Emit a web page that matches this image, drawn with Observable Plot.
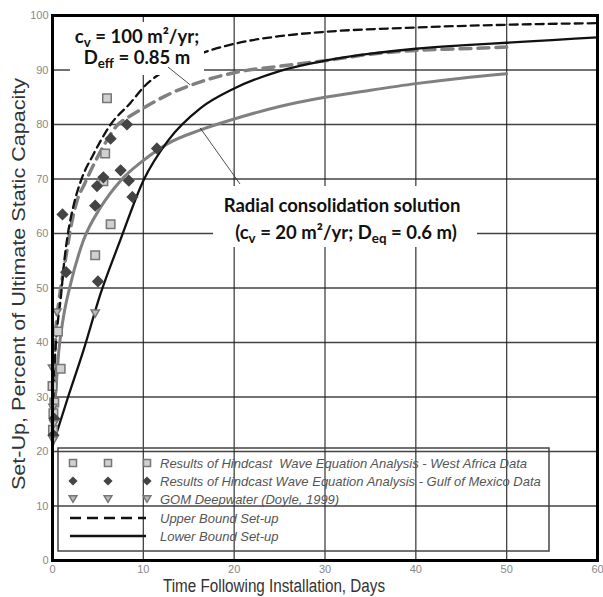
<!DOCTYPE html>
<html><head><meta charset="utf-8">
<script src="https://cdn.jsdelivr.net/npm/d3@7"></script>
<script src="https://cdn.jsdelivr.net/npm/@observablehq/plot@0.6"></script>
<style>body{margin:0;background:#fff} svg{display:block}</style>
</head><body><div id="chart"></div>
<script>
// ---- data ----
const xTicks = [0, 10, 20, 30, 40, 50, 60];
const yTicks = [0, 10, 20, 30, 40, 50, 60, 70, 80, 90, 100];

const upperX = [0, 0.1, 0.3, 0.6, 0.9, 1.3, 1.7, 2.3, 3.2, 4.5, 5.3, 6.4, 8.6, 10, 13, 16.3, 20, 25, 30, 40, 50, 60];
const upperY = [22, 30, 38, 44, 48, 55, 60, 65, 70, 74.5, 77, 80, 84, 86.8, 90.5, 93, 94.8, 96.2, 97, 97.8, 98.3, 98.6];

const lowerX = [0, 1.6, 3.4, 5.3, 7.4, 10, 12.7, 16.3, 20, 25, 30, 35, 40, 45, 50, 55, 60];
const lowerY = [21, 29.4, 38.5, 49, 58.5, 69.7, 77, 83, 86.6, 89.8, 91.7, 93, 93.9, 94.5, 95, 95.5, 96];

const cv100X = [0, 0.15, 0.35, 0.7, 1.2, 1.6, 2, 2.7, 3.5, 4.2, 5.6, 7.1, 8.5, 10, 12.5, 15.2, 20, 25, 30, 35, 40, 45, 50];
const cv100Y = [22, 32, 41.5, 47.5, 53, 57, 61, 66, 69, 71.5, 76, 79.8, 81.5, 83, 85.3, 87.2, 89.5, 90.7, 91.7, 92.9, 93.6, 93.9, 94.2];

const cv20X = [0, 0.3, 0.7, 1.2, 2, 3.4, 5.3, 7.5, 10, 12.7, 16.3, 20, 25, 30, 35, 40, 45, 50];
const cv20Y = [22, 29.4, 38.5, 44.6, 50.8, 58.7, 64.8, 69.7, 73.4, 76.5, 79, 81, 83.3, 85, 86.3, 87.5, 88.5, 89.3];

const waX = [0.05, 0.1, 0.2, 0, 0.9, 0.6, 4.7, 6.4, 5.6, 5.8, 6.0];
const waY = [24, 27, 29, 32, 35.2, 42, 56, 61.7, 69.6, 74.7, 84.8];

const gomX = [0.1, 0.2, 1.1, 1.5, 5.0, 4.7, 4.9, 5.6, 6.4, 7.5, 8.2, 8.4, 8.8, 11.5];
const gomY = [23, 26, 63.5, 52.9, 51.2, 65.1, 68.7, 70.3, 77.4, 71.6, 80, 69.7, 66.7, 75.6];

const doyleX = [0.1, 0.15, 0.05, 0, 0.5, 4.7];
const doyleY = [22, 25, 28, 35.2, 45.5, 45.3];

const legendLabels = [
  "Results of Hindcast  Wave Equation Analysis - West Africa Data",
  "Results of Hindcast Wave Equation Analysis - Gulf of Mexico Data",
  "GOM Deepwater (Doyle, 1999)",
  "Upper Bound Set-up",
  "Lower Bound Set-up"
];
const xLabel = "Time Following Installation, Days";
const yLabel = "Set-Up, Percent of Ultimate Static Capacity";

// ---- build tables ----
const zip = (xs, ys) => xs.map((x, i) => ({x, y: ys[i]}));
const upper = zip(upperX, upperY), lower = zip(lowerX, lowerY);
const cv100 = zip(cv100X, cv100Y), cv20 = zip(cv20X, cv20Y);
const wa = zip(waX, waY), gom = zip(gomX, gomY), doyle = zip(doyleX, doyleY);

const invTriangle = {
  draw(ctx, size) {
    const s = Math.sqrt(size) * 1.1;
    const h = s * Math.sqrt(3) / 2;
    ctx.moveTo(-s / 2, -h / 2);
    ctx.lineTo(s / 2, -h / 2);
    ctx.lineTo(0, h / 2);
    ctx.closePath();
  }
};
const rotSquare = {
  draw(ctx, size) {
    const d = Math.sqrt(size) * 0.62;
    ctx.moveTo(0, -d); ctx.lineTo(d, 0); ctx.lineTo(0, d); ctx.lineTo(-d, 0); ctx.closePath();
  }
};

const GREY = "#808080", BLACK = "#111";
const FONT = "'Liberation Sans', Arial, sans-serif";

const plot = Plot.plot({
  width: 603, height: 597,
  marginLeft: 52, marginRight: 6, marginTop: 15, marginBottom: 37,
  style: {fontFamily: FONT, background: "#fff"},
  x: {domain: [0, 60], label: null},
  y: {domain: [0, 100], label: null},
  marks: [
    Plot.gridX(xTicks, {stroke: "#222", strokeOpacity: 0.85, strokeWidth: 1.3}),
    Plot.gridY(yTicks, {stroke: "#222", strokeOpacity: 0.85, strokeWidth: 1.3}),
    Plot.axisX(xTicks, {tickSize: 0, tickPadding: 5, fontSize: 11, fill: "#888"}),
    Plot.axisY(yTicks, {tickSize: 0, tickPadding: 4, fontSize: 11, fill: "#888"}),
    Plot.line(cv20, {x: "x", y: "y", stroke: GREY, strokeWidth: 3, curve: "monotone-x"}),
    Plot.line(cv100, {x: "x", y: "y", stroke: GREY, strokeWidth: 3.5, strokeDasharray: "11,7", curve: "monotone-x"}),
    Plot.line(lower, {x: "x", y: "y", stroke: BLACK, strokeWidth: 2.3, curve: "monotone-x"}),
    Plot.line(upper, {x: "x", y: "y", stroke: BLACK, strokeWidth: 2.3, strokeDasharray: "8,5", curve: "monotone-x"}),
    Plot.dot(wa, {x: "x", y: "y", symbol: "square", r: 4.8, fill: "#d0d0d0", stroke: "#777", strokeWidth: 1.5}),
    Plot.dot(gom, {x: "x", y: "y", symbol: rotSquare, r: 4.6, fill: "#444", stroke: "#444"}),
    Plot.dot(doyle, {x: "x", y: "y", symbol: invTriangle, r: 4.2, fill: "#bbb", stroke: "#777", strokeWidth: 1.5}),
    Plot.frame({stroke: "#000", strokeWidth: 3}),
    Plot.text([yLabel], {frameAnchor: "left", textAnchor: "middle", dx: -33, dy: -4, rotate: -90, fontSize: 18, fill: "#333", className: "ylab"}),
    Plot.text([xLabel], {frameAnchor: "bottom", textAnchor: "middle", dx: -51, dy: 31, fontSize: 18, fill: "#333", className: "xlab"})
  ]
});
document.getElementById("chart").appendChild(plot);

// ---- annotations & legend (layout) ----
const svg = d3.select(plot);
svg.selectAll(".ylab text").attr("textLength", 412).attr("lengthAdjust", "spacingAndGlyphs");
svg.selectAll(".xlab text").attr("textLength", 222).attr("lengthAdjust", "spacingAndGlyphs");
const sx = plot.scale("x"), sy = plot.scale("y");
const X = v => sx.apply(v), Y = v => sy.apply(v);

const ann = svg.append("g").attr("font-family", "Lato, 'Open Sans', sans-serif").attr("font-weight", "bold").attr("fill", "#111");
ann.append("rect").attr("x", 70).attr("y", 22).attr("width", 134).attr("height", 53).attr("fill", "#fff");
ann.append("line").attr("x1", 168).attr("y1", 67).attr("x2", X(15.2)).attr("y2", Y(87.2)).attr("stroke", "#222").attr("stroke-width", 0.8);
ann.append("rect").attr("x", 213).attr("y", 186).attr("width", 264).attr("height", 61).attr("fill", "#fff");
ann.append("line").attr("x1", X(16.3)).attr("y1", Y(79.3)).attr("x2", 240).attr("y2", 184).attr("stroke", "#222").attr("stroke-width", 0.8);

function rich(g, x, y, parts, size) {
  const t = g.append("text").attr("x", x).attr("y", y).attr("text-anchor", "middle").attr("font-size", size);
  let shift = 0;
  for (const [s, sub] of parts) {
    const ts = t.append("tspan").text(s);
    if (sub && shift === 0) { ts.attr("dy", 4).attr("font-size", size * 0.72); shift = 4; }
    else if (!sub && shift) { ts.attr("dy", -shift); shift = 0; }
    else if (sub) ts.attr("font-size", size * 0.72);
  }
  return t;
}
rich(ann, 137, 43, [["c", false], ["v", true], [" = 100 m²/yr;", false]], 18.5);
rich(ann, 137, 64, [["D", false], ["eff", true], [" = 0.85 m", false]], 18.5);
rich(ann, 342, 212, [["Radial consolidation solution", false]], 18.5);
rich(ann, 346, 239, [["(c", false], ["v", true], [" = 20 m²/yr; D", false], ["eq", true], [" = 0.6 m)", false]], 18.5);

const lg = svg.append("g").attr("font-family", FONT);
lg.append("rect").attr("x", 58).attr("y", 448).attr("width", 491).attr("height", 103)
  .attr("fill", "none").attr("stroke", "#444").attr("stroke-width", 1.5);
const rowY = [463, 481, 499, 518, 536];
const cols = [73, 108, 147];
const sqSym = d3.symbol(d3.symbolSquare, 50), diaSym = d3.symbol(rotSquare, 55), triSym = d3.symbol(invTriangle, 50);
cols.forEach(cx => {
  lg.append("path").attr("d", sqSym()).attr("transform", `translate(${cx},${rowY[0]})`).attr("fill", "#d0d0d0").attr("stroke", "#777").attr("stroke-width", 1.5);
  lg.append("path").attr("d", diaSym()).attr("transform", `translate(${cx},${rowY[1]})`).attr("fill", "#444");
  lg.append("path").attr("d", triSym()).attr("transform", `translate(${cx},${rowY[2]})`).attr("fill", "#bbb").attr("stroke", "#777").attr("stroke-width", 1.5);
});
lg.append("line").attr("x1", 70).attr("x2", 146).attr("y1", rowY[3]).attr("y2", rowY[3]).attr("stroke", BLACK).attr("stroke-width", 2.3).attr("stroke-dasharray", "11,6");
lg.append("line").attr("x1", 70).attr("x2", 146).attr("y1", rowY[4]).attr("y2", rowY[4]).attr("stroke", BLACK).attr("stroke-width", 2.3);
legendLabels.forEach((s, i) => {
  lg.append("text").attr("x", 160).attr("y", rowY[i]).attr("dy", "0.35em").attr("font-size", 13)
    .attr("text-anchor", "start").attr("font-style", "italic").attr("fill", "#555").text(s);
});
</script></body></html>
